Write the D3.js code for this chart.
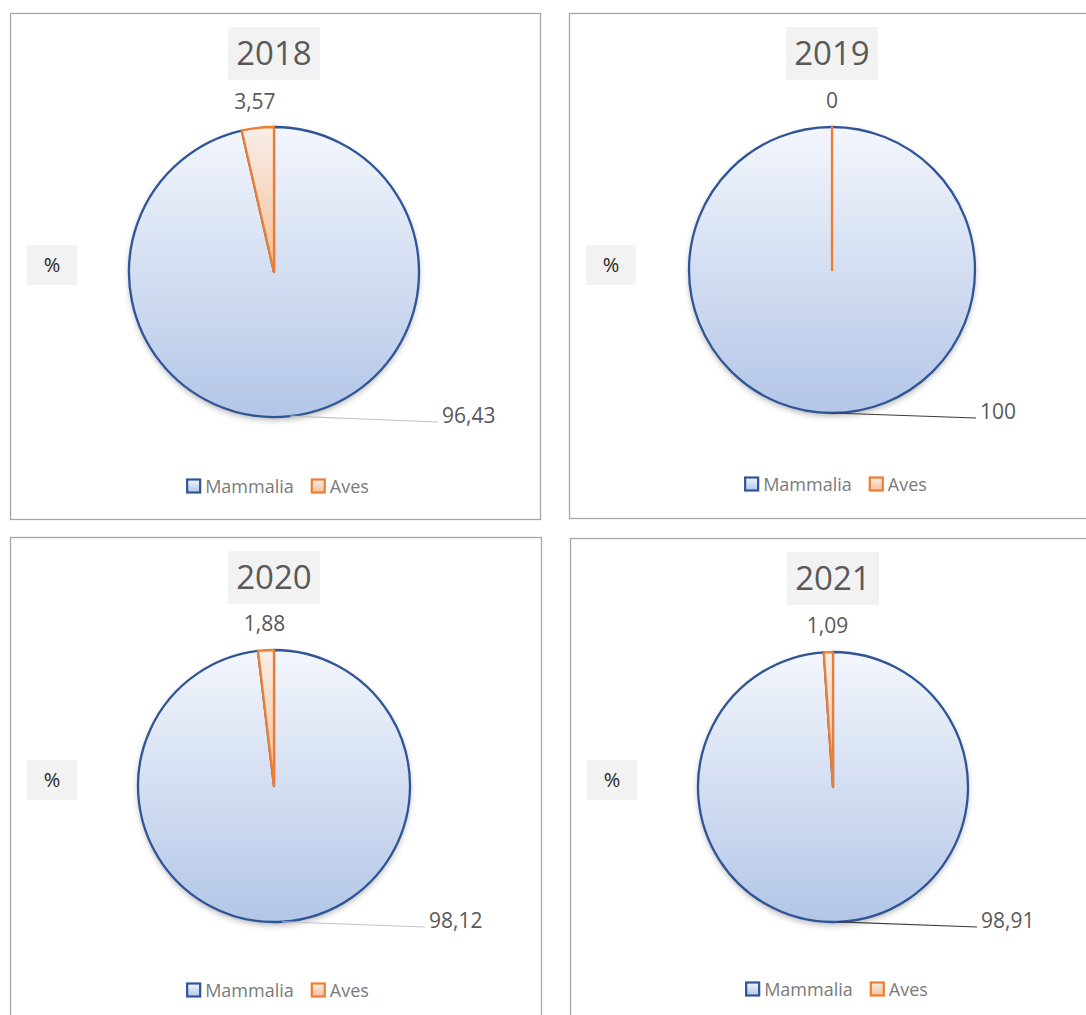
<!DOCTYPE html>
<html>
<head>
<meta charset="utf-8">
<script src="https://cdn.jsdelivr.net/npm/d3@7"></script>
<style>
  body { margin: 0; background: #fff; }
  svg { display: block; }
  text { font-family: "Open Sans", "Noto Sans", sans-serif; }
</style>
</head>
<body>
<div id="chart"></div>
<script>
// data
const years = ["2018", "2019", "2020", "2021"];
const categories = ["Mammalia", "Aves"];
const mammalia = [96.43, 100, 98.12, 98.91];
const aves = [3.57, 0, 1.88, 1.09];
const unitLabel = "%";

// layout of the four chart boxes
const panels = [
  { x: 10,  y: 13,  w: 530, h: 506, cx: 274, cy: 272, r: 145, legendY: 486, pctY: 265, leaderDx: 164, leaderColor: "#c4c4c4" },
  { x: 569, y: 13,  w: 540, h: 505, cx: 832, cy: 270, r: 143, legendY: 484, pctY: 265, leaderDx: 144, leaderColor: "#3a3a3a" },
  { x: 10,  y: 537, w: 531, h: 510, cx: 274, cy: 786, r: 136, legendY: 990, pctY: 780, leaderDx: 151, leaderColor: "#c4c4c4" },
  { x: 570, y: 538, w: 540, h: 510, cx: 833, cy: 787, r: 135, legendY: 989, pctY: 780, leaderDx: 144, leaderColor: "#3a3a3a" }
];

const fills = { Mammalia: "url(#gradBlue)", Aves: "url(#gradOrange)" };
const strokes = { Mammalia: "#2f5597", Aves: "#ed7d31" };

const fmt = d3.formatLocale({ decimal: ",", thousands: ".", grouping: [3], currency: ["", ""] }).format(".4~g");

const svg = d3.select("#chart").append("svg")
  .attr("width", 1086)
  .attr("height", 1015);

const defs = svg.append("defs");

const gBlue = defs.append("linearGradient").attr("id", "gradBlue")
  .attr("x1", 0).attr("y1", 0).attr("x2", 0).attr("y2", 1);
gBlue.append("stop").attr("offset", "0%").attr("stop-color", "#f3f6fc");
gBlue.append("stop").attr("offset", "100%").attr("stop-color", "#b3c6e7");

const gOrange = defs.append("linearGradient").attr("id", "gradOrange")
  .attr("x1", 0).attr("y1", 0).attr("x2", 0).attr("y2", 1);
gOrange.append("stop").attr("offset", "0%").attr("stop-color", "#f8eee8");
gOrange.append("stop").attr("offset", "100%").attr("stop-color", "#f5bf9a");

const shadow = defs.append("filter").attr("id", "shadow")
  .attr("x", "-20%").attr("y", "-20%").attr("width", "140%").attr("height", "140%");
shadow.append("feDropShadow")
  .attr("dx", 0).attr("dy", 3).attr("stdDeviation", 3)
  .attr("flood-color", "#000").attr("flood-opacity", 0.3);

const pie = d3.pie().sort(null).value(d => d.value);

years.forEach((year, i) => {
  const p = panels[i];
  const values = [
    { name: "Mammalia", value: mammalia[i] },
    { name: "Aves", value: aves[i] }
  ];
  const g = svg.append("g");

  // chart border
  g.append("rect")
    .attr("x", p.x + 0.5).attr("y", p.y + 0.5)
    .attr("width", p.w).attr("height", p.h)
    .attr("fill", "#fff")
    .attr("stroke", "#a6a6a6")
    .attr("stroke-width", 1.3);

  // title
  const titleG = g.append("g");
  titleG.append("rect")
    .attr("x", p.cx - 46).attr("y", p.y + 14)
    .attr("width", 92).attr("height", 53)
    .attr("fill", "#f2f2f2");
  titleG.append("text")
    .attr("x", p.cx).attr("y", p.y + 52)
    .attr("text-anchor", "middle")
    .attr("font-size", 33)
    .attr("fill", "#595959")
    .text(year);

  // axis unit label
  g.append("rect")
    .attr("x", p.x + 17).attr("y", p.pctY - 20)
    .attr("width", 50).attr("height", 40)
    .attr("fill", "#f2f2f2");
  g.append("text")
    .attr("x", p.x + 42).attr("y", p.pctY + 7)
    .attr("text-anchor", "middle")
    .attr("font-size", 20)
    .attr("fill", "#262626")
    .text(unitLabel);

  const arcs = pie(values);
  const arc = d3.arc().innerRadius(0).outerRadius(p.r);

  const pieG = g.append("g").attr("transform", `translate(${p.cx},${p.cy})`);

  // shadow disc behind
  pieG.append("circle").attr("r", p.r).attr("fill", "#fff").attr("filter", "url(#shadow)");

  pieG.selectAll("path.slice")
    .data(arcs)
    .join("path")
    .attr("class", "slice")
    .attr("d", arc)
    .attr("fill", d => fills[d.data.name])
    .attr("stroke", d => strokes[d.data.name])
    .attr("stroke-width", 2.3)
    .attr("stroke-linejoin", "round");

  // Aves label above the pie
  const a = arcs[1];
  const midA = (a.startAngle + a.endAngle) / 2;
  const lr = p.r + 26;
  pieG.append("text")
    .attr("x", Math.sin(midA) * lr)
    .attr("y", -Math.cos(midA) * lr + 7)
    .attr("text-anchor", "middle")
    .attr("font-size", 21)
    .attr("fill", "#595959")
    .text(fmt(a.data.value));

  // Mammalia label with leader line
  const m = arcs[0];
  const midM = (m.startAngle + m.endAngle) / 2;
  const sx = Math.sin(midM) * p.r, sy = -Math.cos(midM) * p.r;
  const ex = p.leaderDx, ey = p.r + 5;
  pieG.append("path")
    .attr("d", `M${sx},${sy}L${ex},${ey}`)
    .attr("fill", "none")
    .attr("stroke", p.leaderColor)
    .attr("stroke-width", 1.2);
  pieG.append("text")
    .attr("x", ex + 4)
    .attr("y", ey + 1)
    .attr("font-size", 21)
    .attr("fill", "#595959")
    .text(fmt(m.data.value));

  // legend
  const legend = g.append("g");
  let lx = 0;
  categories.forEach((c, k) => {
    const item = legend.append("g").attr("transform", `translate(${lx},0)`);
    item.append("rect")
      .attr("x", 0).attr("y", -6.5)
      .attr("width", 13).attr("height", 13)
      .attr("fill", fills[c])
      .attr("stroke", strokes[c])
      .attr("stroke-width", 2.2);
    const t = item.append("text")
      .attr("x", 18).attr("y", 6.5)
      .attr("font-size", 18)
      .attr("fill", "#7a7a7a")
      .text(c);
    lx += 18 + t.node().getComputedTextLength() + 18;
  });
  const lw = lx - 18;
  legend.attr("transform", `translate(${p.cx + 4 - lw / 2},${p.legendY})`);
});
</script>
</body>
</html>
